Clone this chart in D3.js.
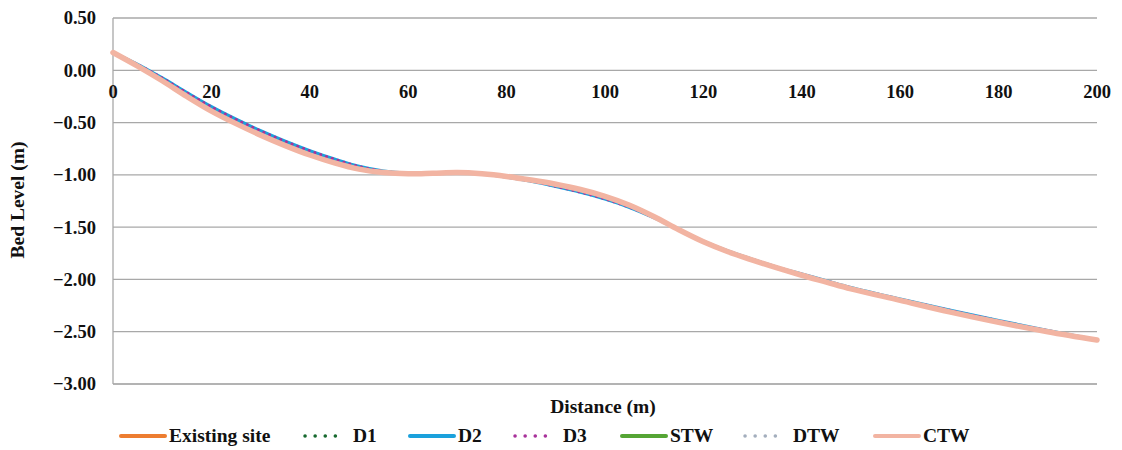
<!DOCTYPE html>
<html>
<head>
<meta charset="utf-8">
<script src="https://d3js.org/d3.v7.min.js"></script>
<style>
  html, body { margin: 0; padding: 0; background: #fff; }
  svg { display: block; font-family: "Liberation Serif", "Times New Roman", serif; font-weight: bold; }
</style>
</head>
<body>
<svg id="chart" width="1122" height="450"></svg>
<script>
// Distance along the profile (m)
const distance = [0, 5, 10, 15, 20, 25, 30, 35, 40, 45, 50, 55, 60, 65, 70, 75, 80, 85, 90, 95,
  100, 105, 110, 115, 120, 125, 130, 135, 140, 145, 150, 160, 170, 180, 190, 200];

// Bed level (m) for each scenario
const existingSite = [0.17, 0.04, -0.10, -0.25, -0.39, -0.51, -0.62, -0.72, -0.81, -0.885, -0.945, -0.978, -0.99, -0.985, -0.978, -0.99,
  -1.015, -1.05, -1.09, -1.14, -1.205, -1.29, -1.40, -1.525, -1.64, -1.735, -1.815, -1.89, -1.96, -2.025, -2.09, -2.20, -2.31, -2.41, -2.50, -2.58];
const d1 = [0.17, 0.045, -0.095, -0.24, -0.38, -0.50, -0.61, -0.71, -0.80, -0.875, -0.94, -0.975, -0.99, -0.985, -0.978, -0.99,
  -1.018, -1.055, -1.10, -1.15, -1.215, -1.30, -1.405, -1.525, -1.64, -1.735, -1.815, -1.89, -1.96, -2.025, -2.09, -2.20, -2.305, -2.405, -2.50, -2.58];
const d2 = [0.17, 0.055, -0.075, -0.215, -0.35, -0.47, -0.58, -0.68, -0.77, -0.85, -0.92, -0.965, -0.985, -0.985, -0.978, -0.99,
  -1.02, -1.06, -1.11, -1.165, -1.23, -1.31, -1.41, -1.525, -1.635, -1.73, -1.81, -1.885, -1.95, -2.015, -2.08, -2.19, -2.295, -2.395, -2.49, -2.58];
const d3Values = [0.17, 0.055, -0.075, -0.215, -0.35, -0.47, -0.58, -0.68, -0.77, -0.85, -0.92, -0.965, -0.985, -0.985, -0.978, -0.99,
  -1.02, -1.06, -1.11, -1.165, -1.23, -1.31, -1.41, -1.525, -1.635, -1.73, -1.81, -1.885, -1.95, -2.015, -2.08, -2.19, -2.295, -2.395, -2.49, -2.58];
const stw = [0.17, 0.04, -0.10, -0.25, -0.39, -0.51, -0.62, -0.72, -0.81, -0.885, -0.945, -0.978, -0.99, -0.985, -0.978, -0.99,
  -1.015, -1.05, -1.09, -1.14, -1.205, -1.29, -1.40, -1.525, -1.64, -1.735, -1.815, -1.89, -1.96, -2.025, -2.09, -2.20, -2.31, -2.41, -2.50, -2.58];
const dtw = [0.17, 0.04, -0.10, -0.25, -0.39, -0.51, -0.62, -0.72, -0.81, -0.885, -0.945, -0.978, -0.99, -0.985, -0.978, -0.99,
  -1.015, -1.05, -1.09, -1.14, -1.205, -1.29, -1.40, -1.525, -1.64, -1.735, -1.815, -1.89, -1.96, -2.025, -2.09, -2.20, -2.31, -2.41, -2.50, -2.58];
const ctw = [0.17, 0.04, -0.10, -0.25, -0.39, -0.51, -0.62, -0.72, -0.81, -0.885, -0.945, -0.978, -0.99, -0.985, -0.978, -0.99,
  -1.015, -1.05, -1.09, -1.14, -1.205, -1.29, -1.40, -1.525, -1.64, -1.735, -1.815, -1.89, -1.96, -2.025, -2.09, -2.20, -2.31, -2.41, -2.50, -2.58];

const seriesNames = ["Existing site", "D1", "D2", "D3", "STW", "DTW", "CTW"];
const seriesValues = [existingSite, d1, d2, d3Values, stw, dtw, ctw];

const xTicks = [0, 20, 40, 60, 80, 100, 120, 140, 160, 180, 200];
const yTicks = [0.5, 0, -0.5, -1, -1.5, -2, -2.5, -3];

// Line styles per scenario
const styles = [
  { color: "#ED7D31", width: 3.5, dash: null },
  { color: "#17692F", width: 3, dash: "0.1 6" },
  { color: "#1BA1DC", width: 3.5, dash: null },
  { color: "#A8329A", width: 3, dash: "0.1 6" },
  { color: "#55A535", width: 3.5, dash: null },
  { color: "#A3AEBD", width: 3, dash: "0.1 6" },
  { color: "#F2B4A2", width: 5.5, dash: null }
];

const svg = d3.select("#chart");
const x = d3.scaleLinear().domain([0, 200]).range([113, 1097]);
const y = d3.scaleLinear().domain([-3, 0.5]).range([384, 18]);

// Horizontal gridlines
svg.append("g")
  .selectAll("line")
  .data(yTicks)
  .join("line")
  .attr("x1", x(0)).attr("x2", x(200))
  .attr("y1", d => y(d)).attr("y2", d => y(d))
  .attr("stroke", d => d === -3 ? "#9a9a9a" : "#a8a8a8")
  .attr("stroke-width", 1.3);

// Vertical axis line
svg.append("line")
  .attr("x1", x(0)).attr("x2", x(0))
  .attr("y1", y(0.5)).attr("y2", y(-3))
  .attr("stroke", "#a8a8a8").attr("stroke-width", 1.3);

// Y tick labels
svg.append("g")
  .selectAll("text")
  .data(yTicks)
  .join("text")
  .attr("x", 96)
  .attr("y", d => y(d))
  .attr("dy", "0.35em")
  .attr("text-anchor", "end")
  .attr("font-size", 18.5)
  .attr("fill", "#111")
  .text(d => d3.format(".2f")(d));

// X tick labels sit just under the zero line
svg.append("g")
  .selectAll("text")
  .data(xTicks)
  .join("text")
  .attr("x", d => x(d))
  .attr("y", y(0) + 28)
  .attr("text-anchor", "middle")
  .attr("font-size", 18.5)
  .attr("fill", "#111")
  .text(d => d);

// Axis titles
svg.append("text")
  .attr("x", 603).attr("y", 413)
  .attr("text-anchor", "middle")
  .attr("font-size", 19.5)
  .attr("fill", "#111")
  .text("Distance (m)");

svg.append("text")
  .attr("transform", "translate(24,200) rotate(-90)")
  .attr("text-anchor", "middle")
  .attr("font-size", 19.5)
  .attr("fill", "#111")
  .text("Bed Level (m)");

// Profile lines
const line = d3.line()
  .x((d, i) => x(distance[i]))
  .y(d => y(d))
  .curve(d3.curveCatmullRom.alpha(0.5));

svg.append("g")
  .selectAll("path")
  .data(seriesValues)
  .join("path")
  .attr("d", d => line(d))
  .attr("fill", "none")
  .attr("stroke", (d, i) => styles[i].color)
  .attr("stroke-width", (d, i) => styles[i].width)
  .attr("stroke-dasharray", (d, i) => styles[i].dash)
  .attr("stroke-linecap", "round")
  .attr("stroke-linejoin", "round");

// Legend
const legendX = [121, 305, 410, 515, 622, 745, 875];
const legend = svg.append("g")
  .selectAll("g")
  .data(seriesNames)
  .join("g")
  .attr("transform", (d, i) => `translate(${legendX[i]},436)`);

legend.append("line")
  .attr("x1", 0).attr("x2", (d, i) => styles[i].dash ? 40 : 44)
  .attr("y1", 0).attr("y2", 0)
  .attr("stroke", (d, i) => styles[i].color)
  .attr("stroke-width", (d, i) => styles[i].dash ? 3.5 : 4)
  .attr("stroke-dasharray", (d, i) => styles[i].dash ? "0.1 10" : null)
  .attr("stroke-linecap", "round");

legend.append("text")
  .attr("x", 48)
  .attr("y", 6)
  .attr("font-size", 19.5)
  .attr("fill", "#111")
  .text(d => d);
</script>
</body>
</html>
